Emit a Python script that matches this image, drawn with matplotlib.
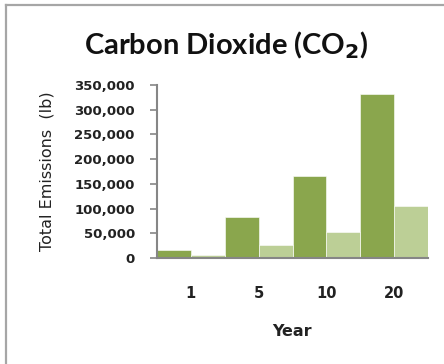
import numpy as np
import matplotlib.pyplot as plt
from matplotlib.lines import Line2D
from matplotlib.ticker import FuncFormatter

years = ["1", "5", "10", "20"]
emissions_dark = [16600, 83000, 166000, 332000]
emissions_light = [5250, 26250, 52500, 105000]

dark_green = "#8aa64d"
light_green = "#bccf96"
axis_gray = "#868686"

fig = plt.figure(figsize=(4.44, 3.64), dpi=100)
ax = fig.add_axes([157 / 444, 1 - 258 / 364, (428 - 157) / 444, (258 - 85) / 364])

x = np.arange(len(years))
ax.bar(x - 0.25, emissions_dark, width=0.5, color=dark_green,
       edgecolor="white", linewidth=0.4)
ax.bar(x + 0.25, emissions_light, width=0.5, color=light_green,
       edgecolor="white", linewidth=0.4)

ax.set_xlim(-0.5, 3.5)
ax.set_ylim(0, 350000)
ax.set_yticks(np.arange(0, 350001, 50000))
ax.yaxis.set_major_formatter(FuncFormatter(lambda v, p: f"{int(v):,}"))
ax.set_xticks(x)
ax.set_xticklabels(years)

for side in ["top", "right"]:
    ax.spines[side].set_visible(False)
for side in ["left", "bottom"]:
    ax.spines[side].set_color(axis_gray)
    ax.spines[side].set_linewidth(1.5)

ax.tick_params(axis="y", direction="out", length=5, width=1.2, color=axis_gray,
               labelsize=9.5, pad=11, labelcolor="#222222")
ax.tick_params(axis="x", length=0, labelsize=10.5, pad=20, labelcolor="#222222")
for lbl in ax.get_xticklabels() + ax.get_yticklabels():
    lbl.set_fontfamily("DejaVu Sans")
    lbl.set_fontweight("bold")

ax.set_ylabel("Total Emissions  (lb)", fontsize=11.5, fontfamily="DejaVu Sans",
              color="#222222")
ax.yaxis.set_label_coords(-0.38, 0.5)
fig.text(292 / 444, 1 - 332 / 364, "Year", ha="center", va="center",
         fontsize=11.5, fontweight="bold", fontfamily="DejaVu Sans", color="#222222")

fig.text(226 / 444, 1 - 45 / 364, "Carbon Dioxide (CO$_\\mathbf{2}$)", ha="center",
         va="center", fontsize=21, fontweight="bold", fontfamily="Lato",
         color="#111111")

# outer frame lines along the top and left
fig.add_artist(Line2D([6 / 444, 6 / 444], [0, 1 - 5 / 364], transform=fig.transFigure,
                      color="#a6a6a6", linewidth=1.6))
fig.add_artist(Line2D([6 / 444, 1], [1 - 5 / 364, 1 - 5 / 364], transform=fig.transFigure,
                      color="#a6a6a6", linewidth=1.6))

fig.savefig("out.png", dpi=100)
